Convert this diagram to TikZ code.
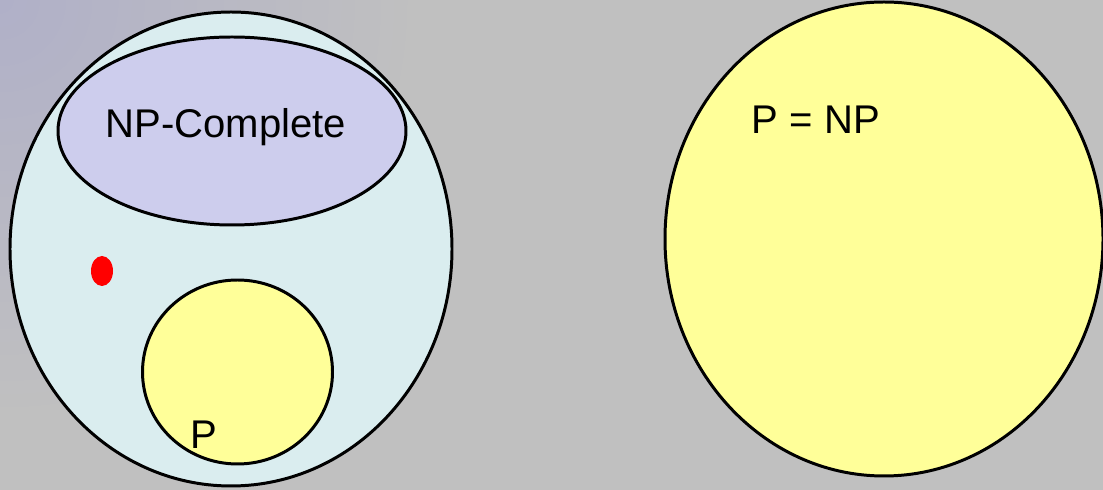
\documentclass[tikz,border=0pt]{standalone}
\usepackage{fontspec}
\setmainfont{Liberation Sans}
\usetikzlibrary{shadings}
\definecolor{bgblue}{HTML}{B0B0C8}
\definecolor{bggray}{HTML}{C0C0C0}
\definecolor{npfill}{HTML}{DAEDEF}
\definecolor{npcfill}{HTML}{CDCDED}
\definecolor{pfill}{HTML}{FFFF99}
\tikzset{
  setline/.style={draw=black, line width=1.7pt},
  setlabel/.style={font=\fontsize{22.8}{26}\selectfont, inner sep=0pt}
}
\begin{document}
\begin{tikzpicture}[x=0.02cm, y=0.02cm]

            \useasboundingbox (0,0) rectangle (1103,490);
            \fill[bggray] (0,0) rectangle (1103,490);
            \begin{scope}
              \clip (0,0) rectangle (1103,490);
              \shade[inner color=bgblue, outer color=bggray] (0,490) circle (420);
            \end{scope}

            % NP on the left
            \fill[npfill] (231,241) ellipse [x radius=221, y radius=237];
            \fill[npcfill] (232,359) ellipse [x radius=174, y radius=94];
            \fill[pfill] (237.5,118) ellipse [x radius=95, y radius=92];
            \draw[setline] (231,241) ellipse [x radius=221, y radius=237];
            \draw[setline] (232,359) ellipse [x radius=174, y radius=94];
            \draw[setline] (237.5,118) ellipse [x radius=95, y radius=92];
            \fill[red] (102,219) ellipse [x radius=11, y radius=15];

            \node[setlabel] (npc) at (226,363) {NP-Complete};
            \node[setlabel] (p) at (204,55) {P};

            % P = NP on the right
            \fill[pfill] (884,251) ellipse [x radius=219, y radius=237];
            \draw[setline] (884,251) ellipse [x radius=219, y radius=237];
            \node[setlabel] (pnp) at (816,370) {P = NP};

        \end{tikzpicture}
\end{document}
